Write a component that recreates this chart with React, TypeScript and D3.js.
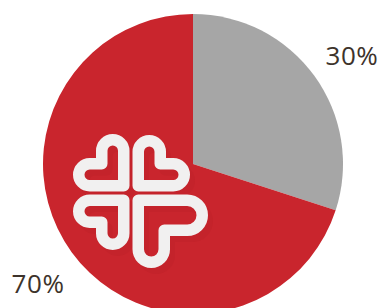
import React from 'react';
import * as d3 from 'd3';

// slice data, clockwise from 12 o'clock
const labels = ['30%', '70%'];
const values = [30, 70];
const colors = ['#a6a6a6', '#c9252d'];

const W = 384;
const H = 308;
const cx = 193;
const cy = 164;
const radius = 150;
const labelRadius = 194;

// heart-cross emblem drawn over the red slice
const logoCenter = { x: 131, y: 193 };
const stroke = 11.5;
const quadrants = [
  { dx: -1, dy: -1, U: 58, V: 59, ru: 11, rv: 11 },
  { dx: 1, dy: -1, U: 59, V: 58, ru: 11, rv: 11 },
  { dx: -1, dy: 1, U: 58, V: 57, ru: 11, rv: 11 },
  { dx: 1, dy: 1, U: 77, V: 75, ru: 15, rv: 13 },
];

function heartPath(q: typeof quadrants[number]) {
  const u0 = 1.5 + stroke / 2;
  const Uc = q.U - stroke / 2 - q.ru;
  const Vc = q.V - stroke / 2 - q.rv;
  const P = (u: number, v: number) => `${logoCenter.x + q.dx * u},${logoCenter.y + q.dy * v}`;
  const sweep = q.dx * q.dy > 0 ? 1 : 0;
  return [
    `M${P(u0, u0)}`,
    `L${P(Uc, u0)}`,
    `A${q.ru},${q.ru} 0 0 ${sweep} ${P(Uc, u0 + 2 * q.ru)}`,
    `L${P(u0 + 2 * q.rv, u0 + 2 * q.ru)}`,
    `L${P(u0 + 2 * q.rv, Vc)}`,
    `A${q.rv},${q.rv} 0 0 ${sweep} ${P(u0, Vc)}`,
    'Z',
  ].join(' ');
}

export default function App() {
  const pie = d3.pie<number>().sort(null).value(d => d);
  const arcs = pie(values);
  const arc = d3.arc<d3.PieArcDatum<number>>().innerRadius(0).outerRadius(radius);
  const labelArc = d3.arc<d3.PieArcDatum<number>>().innerRadius(labelRadius).outerRadius(labelRadius);

  return (
    <svg
      width={W}
      height={H}
      style={{ position: 'absolute', left: 0, top: 0, background: '#fff' }}
    >
      <g transform={`translate(${cx},${cy})`}>
        {arcs.map((a, i) => (
          <path key={i} d={arc(a) ?? ''} fill={colors[i]} />
        ))}
      </g>
      {/* faint offset shadow of the emblem */}
      <g fill="none" stroke="#c4232b" strokeWidth={stroke} strokeLinejoin="round" transform="translate(5,6)">
        {quadrants.map((q, i) => (
          <path key={i} d={heartPath(q)} />
        ))}
      </g>
      <g fill="none" stroke="#f1f0f0" strokeWidth={stroke} strokeLinejoin="round">
        {quadrants.map((q, i) => (
          <path key={i} d={heartPath(q)} />
        ))}
      </g>
      <g transform={`translate(${cx},${cy})`}>
        {arcs.map((a, i) => {
          const [x, y] = labelArc.centroid(a);
          return (
            <text
              key={i}
              x={x + 2}
              y={y + 2}
              dy="0.5em"
              textAnchor="middle"
              fill="#3d332b"
              fontFamily="'Open Sans', sans-serif"
              fontSize={26}
              letterSpacing={0.6}
            >
              {labels[i]}
            </text>
          );
        })}
      </g>
    </svg>
  );
}
